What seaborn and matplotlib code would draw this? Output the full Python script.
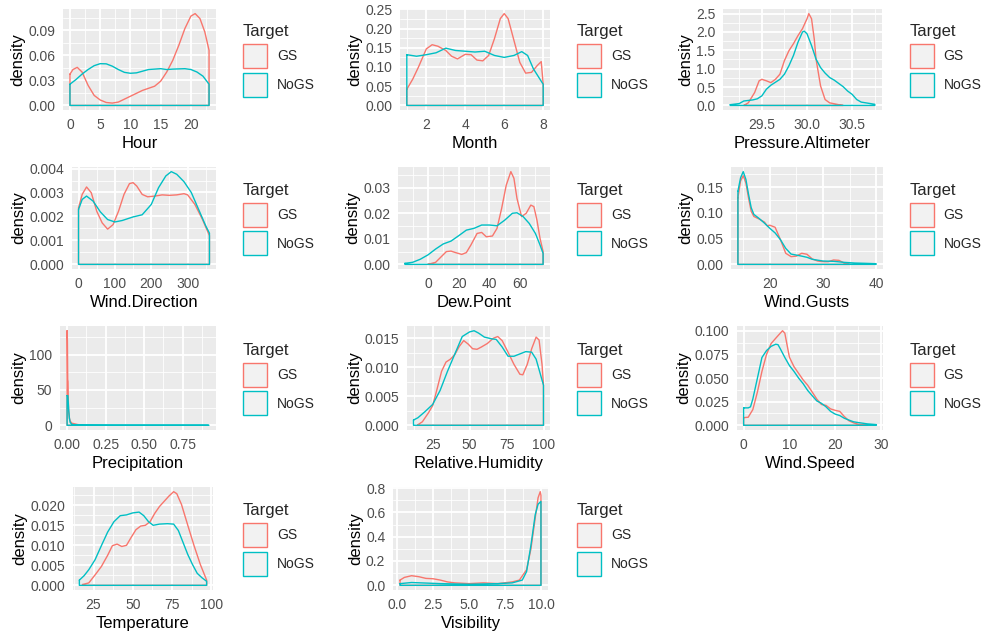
import matplotlib
matplotlib.use("Agg")
import pandas as pd
import matplotlib.pyplot as plt
from matplotlib.patches import Patch
from matplotlib.ticker import AutoMinorLocator
import seaborn as sns

# ---- density curves (x grid, density) ----
HOUR_GS_X = [0, 0.5, 1.2, 2, 3, 4, 5, 6, 7, 8, 10, 12, 14, 15, 16, 17, 18, 19, 20, 20.7, 21.5, 22.3, 23]
HOUR_GS_Y = [0.0375, 0.043, 0.0456, 0.040, 0.024, 0.012, 0.0065, 0.0035, 0.0028, 0.004, 0.011, 0.018,
             0.023, 0.029, 0.040, 0.054, 0.072, 0.092, 0.107, 0.110, 0.104, 0.088, 0.066]
HOUR_NOGS_X = [0, 1, 2, 3, 4, 5, 6, 7, 8, 9, 10, 11, 12, 13, 15, 16, 17, 19, 20, 21, 22, 23]
HOUR_NOGS_Y = [0.0254, 0.031, 0.0375, 0.043, 0.0476, 0.050, 0.0498, 0.047, 0.043, 0.0396, 0.0385, 0.039,
               0.041, 0.043, 0.044, 0.043, 0.0435, 0.044, 0.043, 0.040, 0.035, 0.0254]

MONTH_GS_X = [1, 1.3, 1.6, 2, 2.3, 2.6, 3, 3.3, 3.6, 4, 4.3, 4.6, 4.9, 5.2, 5.5, 5.8, 6, 6.2, 6.5, 6.8,
              7.1, 7.4, 7.7, 7.9, 8]
MONTH_GS_Y = [0.042, 0.068, 0.10, 0.147, 0.158, 0.154, 0.143, 0.128, 0.121, 0.133, 0.132, 0.118, 0.116,
              0.130, 0.174, 0.226, 0.239, 0.226, 0.169, 0.112, 0.084, 0.086, 0.104, 0.114, 0.055]
MONTH_NOGS_X = [1, 1.5, 2, 2.5, 3, 3.5, 4, 4.5, 5, 5.5, 6, 6.5, 6.9, 7.2, 7.5, 8]
MONTH_NOGS_Y = [0.132, 0.128, 0.132, 0.137, 0.149, 0.143, 0.141, 0.139, 0.141, 0.130, 0.125, 0.130,
                0.140, 0.130, 0.095, 0.055]

PRESS_GS_X = [29.3, 29.35, 29.42, 29.47, 29.5, 29.55, 29.6, 29.65, 29.7, 29.75, 29.8, 29.85, 29.9,
              29.95, 30.0, 30.02, 30.05, 30.08, 30.1, 30.15, 30.2, 30.25, 30.35, 30.4]
PRESS_GS_Y = [0.0, 0.07, 0.35, 0.67, 0.71, 0.67, 0.62, 0.71, 0.85, 1.22, 1.49, 1.68, 1.90, 2.09, 2.36,
              2.5, 2.36, 1.81, 1.26, 0.53, 0.16, 0.07, 0.02, 0.0]
PRESS_NOGS_X = [29.15, 29.25, 29.3, 29.4, 29.45, 29.5, 29.55, 29.6, 29.7, 29.75, 29.8, 29.85, 29.9,
                29.95, 29.97, 30.0, 30.05, 30.1, 30.15, 30.2, 30.25, 30.3, 30.35, 30.4, 30.45, 30.5,
                30.55, 30.6, 30.65, 30.7, 30.75]
PRESS_NOGS_Y = [0.02, 0.05, 0.12, 0.15, 0.18, 0.26, 0.44, 0.55, 0.71, 0.85, 1.08, 1.36, 1.72, 2.0, 2.02,
                1.95, 1.63, 1.26, 1.03, 0.88, 0.76, 0.69, 0.60, 0.51, 0.39, 0.30, 0.16, 0.09, 0.07,
                0.05, 0.03]

WDIR_GS_X = [0, 10, 22, 35, 50, 65, 80, 95, 110, 125, 140, 150, 160, 175, 190, 210, 230, 250, 270,
             290, 300, 320, 340, 360]
WDIR_GS_Y = [0.00236, 0.00292, 0.00323, 0.00299, 0.00222, 0.00173, 0.00147, 0.00166, 0.00222,
             0.00292, 0.00337, 0.00341, 0.00327, 0.00292, 0.00282, 0.00285, 0.00290, 0.00288,
             0.00290, 0.00295, 0.00290, 0.0025, 0.0019, 0.0012]
WDIR_NOGS_X = [0, 10, 22, 40, 60, 80, 100, 120, 150, 175, 200, 220, 240, 255, 270, 290, 310, 330,
               350, 360]
WDIR_NOGS_Y = [0.00229, 0.00271, 0.00285, 0.00264, 0.00219, 0.00187, 0.00177, 0.00183, 0.00198,
               0.00207, 0.0025, 0.0032, 0.00369, 0.00387, 0.00376, 0.00345, 0.00300, 0.00230,
               0.00160, 0.0013]

DEW_GS_X = [0, 5, 8, 12, 15, 18, 22, 25, 28, 32, 35, 38, 42, 45, 48, 51, 54, 56, 58, 61, 64, 67, 69,
            71, 73, 75]
DEW_GS_Y = [0.0, 0.0008, 0.0026, 0.005, 0.0052, 0.0046, 0.0039, 0.0046, 0.0076, 0.0121, 0.0125,
            0.0108, 0.0111, 0.0141, 0.0219, 0.031, 0.0363, 0.0337, 0.0258, 0.0187, 0.020, 0.0232,
            0.0226, 0.0173, 0.0102, 0.005]
DEW_NOGS_X = [-15, -10, -5, 0, 5, 10, 15, 20, 25, 30, 35, 40, 45, 50, 55, 58, 62, 66, 70, 73, 75]
DEW_NOGS_Y = [0.0004, 0.0008, 0.002, 0.0037, 0.006, 0.008, 0.0091, 0.0112, 0.0134, 0.0141, 0.0154,
              0.0154, 0.0151, 0.0173, 0.020, 0.0202, 0.0187, 0.016, 0.0121, 0.0076, 0.0043]

GUST_GS_X = [14, 14.5, 15, 15.5, 16, 16.5, 17, 18, 19, 19.5, 20, 21, 22, 23, 24, 25, 26, 27, 28, 29,
             30, 31, 32, 33, 34, 35]
GUST_GS_Y = [0.129, 0.162, 0.172, 0.158, 0.129, 0.103, 0.093, 0.088, 0.082, 0.075, 0.076, 0.072,
             0.048, 0.0215, 0.015, 0.016, 0.0215, 0.0196, 0.0104, 0.0065, 0.0052, 0.0052, 0.0085,
             0.0078, 0.0026, 0.0]
GUST_NOGS_X = [14, 14.5, 15, 15.5, 16, 16.5, 17, 18, 19, 20, 21, 22, 23, 24, 25, 26, 27, 28, 30, 32,
               34, 36, 38, 40]
GUST_NOGS_Y = [0.142, 0.168, 0.18, 0.165, 0.136, 0.11, 0.097, 0.089, 0.080, 0.070, 0.061, 0.048,
               0.031, 0.020, 0.018, 0.016, 0.0137, 0.0098, 0.0065, 0.0059, 0.0039, 0.0026, 0.002,
               0.0013]

PRECIP_GS_X = [0, 0.002, 0.004, 0.006, 0.008, 0.01, 0.015, 0.02, 0.03, 0.05, 0.07, 0.1]
PRECIP_GS_Y = [134, 120, 65, 62, 35, 20, 10, 6, 3, 2, 1, 0.3]
PRECIP_NOGS_X = [0, 0.005, 0.01, 0.015, 0.02, 0.03, 0.05, 0.1, 0.3, 0.6, 0.92]
PRECIP_NOGS_Y = [42, 42, 23, 10, 4, 1.5, 0.5, 0.2, 0.05, 0.02, 0.01]

RH_GS_X = [15, 18, 22, 25, 28, 31, 34, 37, 40, 43, 46, 49, 52, 55, 58, 62, 66, 69, 72, 76, 80, 84,
           86, 89, 92, 95, 97, 99, 100]
RH_GS_Y = [0.0001, 0.0006, 0.0021, 0.0034, 0.0063, 0.0093, 0.0109, 0.0114, 0.0122, 0.0136, 0.0146,
           0.014, 0.0132, 0.0131, 0.0135, 0.0141, 0.015, 0.0153, 0.0146, 0.0126, 0.0105, 0.0088,
           0.0087, 0.0105, 0.0132, 0.0152, 0.0147, 0.0105, 0.0069]
RH_NOGS_X = [12, 15, 20, 25, 30, 35, 40, 45, 50, 53, 56, 60, 65, 68, 72, 76, 80, 84, 88, 92, 95, 98,
             100]
RH_NOGS_Y = [0.0009, 0.0013, 0.0024, 0.0036, 0.006, 0.0093, 0.0123, 0.0153, 0.0161, 0.0163, 0.0159,
             0.0152, 0.0149, 0.0148, 0.0135, 0.0119, 0.0119, 0.0123, 0.0127, 0.0126, 0.0114, 0.0087,
             0.0069]

WSPD_GS_X = [0, 1, 2, 3, 4, 5, 6, 7, 8, 8.5, 9, 10, 11, 12, 13, 14, 15, 16, 17, 18, 19, 20, 21, 22,
             23, 24, 25, 27]
WSPD_GS_Y = [0.0081, 0.0085, 0.0165, 0.035, 0.057, 0.075, 0.0864, 0.092, 0.0974, 0.1, 0.0974, 0.072,
             0.062, 0.055, 0.048, 0.0423, 0.035, 0.0276, 0.022, 0.021, 0.0173, 0.0158, 0.0147,
             0.0092, 0.0048, 0.0026, 0.0011, 0.0004]
WSPD_NOGS_X = [0, 1, 1.5, 2, 3, 4, 5, 6, 7, 7.5, 8, 9, 10, 11, 12, 13, 14, 15, 16, 17, 18, 19, 20,
               21, 22, 23, 24, 25, 27, 29]
WSPD_NOGS_Y = [0.0184, 0.0184, 0.0195, 0.0276, 0.0496, 0.0717, 0.079, 0.0835, 0.0857, 0.0853, 0.081,
               0.0717, 0.0632, 0.057, 0.050, 0.044, 0.0368, 0.0312, 0.0257, 0.0232, 0.0195, 0.0147,
               0.0118, 0.0103, 0.0074, 0.0055, 0.0037, 0.0029, 0.0015, 0.0007]

TEMP_GS_X = [18, 22, 26, 30, 34, 37, 40, 43, 46, 49, 52, 55, 58, 61, 64, 67, 70, 73, 76, 78, 81, 85,
             89, 93, 97]
TEMP_GS_Y = [0.0002, 0.0006, 0.0026, 0.0047, 0.0075, 0.0099, 0.0103, 0.0097, 0.010, 0.012, 0.0139,
             0.0148, 0.015, 0.0159, 0.018, 0.0197, 0.021, 0.0223, 0.0234, 0.0229, 0.0202, 0.015,
             0.0099, 0.0052, 0.0013]
TEMP_NOGS_X = [16, 19, 22, 26, 30, 34, 38, 42, 46, 50, 54, 57, 60, 63, 67, 72, 76, 79, 82, 85, 88,
               91, 94, 97]
TEMP_NOGS_Y = [0.0013, 0.0024, 0.0039, 0.0064, 0.0099, 0.0133, 0.0159, 0.0174, 0.0176, 0.0181,
               0.0183, 0.0174, 0.0159, 0.015, 0.0153, 0.0154, 0.0153, 0.0137, 0.0107, 0.0077,
               0.0052, 0.003, 0.0019, 0.001]

VIS_GS_X = [0.2, 0.5, 1, 1.5, 2, 2.5, 3, 3.5, 4, 5, 6, 7, 8, 8.5, 9, 9.3, 9.6, 9.8, 9.95, 10]
VIS_GS_Y = [0.043, 0.065, 0.079, 0.071, 0.057, 0.054, 0.043, 0.028, 0.02, 0.014, 0.02, 0.014, 0.028,
            0.043, 0.128, 0.298, 0.553, 0.72, 0.77, 0.74]
VIS_NOGS_X = [0.2, 1, 3, 5, 7, 8, 8.7, 9, 9.3, 9.6, 9.8, 10]
VIS_NOGS_Y = [0.014, 0.023, 0.014, 0.0085, 0.014, 0.02, 0.043, 0.113, 0.326, 0.58, 0.667, 0.69]

# ---- axis ticks (values, labels) ----
HOUR_XT, HOUR_XL = [0, 5, 10, 15, 20], ["0", "5", "10", "15", "20"]
HOUR_YT, HOUR_YL = [0, 0.03, 0.06, 0.09], ["0.00", "0.03", "0.06", "0.09"]
MONTH_XT, MONTH_XL = [2, 4, 6, 8], ["2", "4", "6", "8"]
MONTH_YT = [0, 0.05, 0.10, 0.15, 0.20, 0.25]
MONTH_YL = ["0.00", "0.05", "0.10", "0.15", "0.20", "0.25"]
PRESS_XT, PRESS_XL = [29.5, 30.0, 30.5], ["29.5", "30.0", "30.5"]
PRESS_YT, PRESS_YL = [0, 0.5, 1.0, 1.5, 2.0, 2.5], ["0.0", "0.5", "1.0", "1.5", "2.0", "2.5"]
WDIR_XT, WDIR_XL = [0, 100, 200, 300], ["0", "100", "200", "300"]
WDIR_YT = [0, 0.001, 0.002, 0.003, 0.004]
WDIR_YL = ["0.000", "0.001", "0.002", "0.003", "0.004"]
DEW_XT, DEW_XL = [0, 20, 40, 60], ["0", "20", "40", "60"]
DEW_YT, DEW_YL = [0, 0.01, 0.02, 0.03], ["0.00", "0.01", "0.02", "0.03"]
GUST_XT, GUST_XL = [20, 30, 40], ["20", "30", "40"]
GUST_YT, GUST_YL = [0, 0.05, 0.10, 0.15], ["0.00", "0.05", "0.10", "0.15"]
PRECIP_XT, PRECIP_XL = [0, 0.25, 0.5, 0.75], ["0.00", "0.25", "0.50", "0.75"]
PRECIP_YT, PRECIP_YL = [0, 50, 100], ["0", "50", "100"]
RH_XT, RH_XL = [25, 50, 75, 100], ["25", "50", "75", "100"]
RH_YT, RH_YL = [0, 0.005, 0.010, 0.015], ["0.000", "0.005", "0.010", "0.015"]
WSPD_XT, WSPD_XL = [0, 10, 20, 30], ["0", "10", "20", "30"]
WSPD_YT = [0, 0.025, 0.05, 0.075, 0.1]
WSPD_YL = ["0.000", "0.025", "0.050", "0.075", "0.100"]
TEMP_XT, TEMP_XL = [25, 50, 75, 100], ["25", "50", "75", "100"]
TEMP_YT = [0, 0.005, 0.010, 0.015, 0.020]
TEMP_YL = ["0.000", "0.005", "0.010", "0.015", "0.020"]
VIS_XT, VIS_XL = [0, 2.5, 5, 7.5, 10], ["0.0", "2.5", "5.0", "7.5", "10.0"]
VIS_YT, VIS_YL = [0, 0.2, 0.4, 0.6, 0.8], ["0.0", "0.2", "0.4", "0.6", "0.8"]

TARGETS = ["GS", "NoGS"]
PALETTE = {"GS": "#F8766D", "NoGS": "#00BFC4"}

PANELS = [
    ("Hour", HOUR_GS_X, HOUR_GS_Y, HOUR_NOGS_X, HOUR_NOGS_Y, HOUR_XT, HOUR_XL, HOUR_YT, HOUR_YL),
    ("Month", MONTH_GS_X, MONTH_GS_Y, MONTH_NOGS_X, MONTH_NOGS_Y, MONTH_XT, MONTH_XL, MONTH_YT, MONTH_YL),
    ("Pressure.Altimeter", PRESS_GS_X, PRESS_GS_Y, PRESS_NOGS_X, PRESS_NOGS_Y, PRESS_XT, PRESS_XL,
     PRESS_YT, PRESS_YL),
    ("Wind.Direction", WDIR_GS_X, WDIR_GS_Y, WDIR_NOGS_X, WDIR_NOGS_Y, WDIR_XT, WDIR_XL, WDIR_YT, WDIR_YL),
    ("Dew.Point", DEW_GS_X, DEW_GS_Y, DEW_NOGS_X, DEW_NOGS_Y, DEW_XT, DEW_XL, DEW_YT, DEW_YL),
    ("Wind.Gusts", GUST_GS_X, GUST_GS_Y, GUST_NOGS_X, GUST_NOGS_Y, GUST_XT, GUST_XL, GUST_YT, GUST_YL),
    ("Precipitation", PRECIP_GS_X, PRECIP_GS_Y, PRECIP_NOGS_X, PRECIP_NOGS_Y, PRECIP_XT, PRECIP_XL,
     PRECIP_YT, PRECIP_YL),
    ("Relative.Humidity", RH_GS_X, RH_GS_Y, RH_NOGS_X, RH_NOGS_Y, RH_XT, RH_XL, RH_YT, RH_YL),
    ("Wind.Speed", WSPD_GS_X, WSPD_GS_Y, WSPD_NOGS_X, WSPD_NOGS_Y, WSPD_XT, WSPD_XL, WSPD_YT, WSPD_YL),
    ("Temperature", TEMP_GS_X, TEMP_GS_Y, TEMP_NOGS_X, TEMP_NOGS_Y, TEMP_XT, TEMP_XL, TEMP_YT, TEMP_YL),
    ("Visibility", VIS_GS_X, VIS_GS_Y, VIS_NOGS_X, VIS_NOGS_Y, VIS_XT, VIS_XL, VIS_YT, VIS_YL),
]

# panel placement in pixels (gray area), ggplot grid.arrange style
W, H = 984, 635
ROW_TOP = [9, 167, 326, 487]
ROW_BOTTOM = [110, 269, 430, 590]
AX_X = [(63, 216), (400, 550), (723, 882), (72, 216), (398, 550), (731, 883),
        (60, 216), (407, 550), (737, 883), (73, 213), (393, 548)]
LEGEND_X = [243, 577, 910]


def density_frame(gx, gy, nx, ny):
    # geom_density outlines are closed polygons down to the baseline
    rows = []
    for target, xs, ys in (("GS", gx, gy), ("NoGS", nx, ny)):
        px = list(xs) + [xs[-1], xs[0], xs[0]]
        py = list(ys) + [0, 0, ys[0]]
        for a, b in zip(px, py):
            rows.append({"Target": target, "value": a, "density": b})
    return pd.DataFrame(rows)


sns.set_style("darkgrid", {"axes.facecolor": "#EBEBEB", "grid.color": "white"})
plt.rcParams["font.family"] = ["Liberation Sans", "DejaVu Sans"]

fig = plt.figure(figsize=(W / 100, H / 100), dpi=100)

for i, (name, gx, gy, nx, ny, xt, xl, yt, yl) in enumerate(PANELS):
    r, c = divmod(i, 3)
    left, right = AX_X[i]
    ax = fig.add_axes([left / W, 1 - ROW_BOTTOM[r] / H, (right - left) / W,
                       (ROW_BOTTOM[r] - ROW_TOP[r]) / H])
    df = density_frame(gx, gy, nx, ny)
    sns.lineplot(data=df, x="value", y="density", hue="Target", hue_order=TARGETS,
                 palette=PALETTE, sort=False, estimator=None, legend=False, ax=ax,
                 linewidth=1.0)

    ax.set_xticks(xt, xl)
    ax.set_yticks(yt, yl)
    ax.xaxis.set_minor_locator(AutoMinorLocator(2))
    ax.yaxis.set_minor_locator(AutoMinorLocator(2))
    ax.grid(which="major", color="white", linewidth=1.3)
    ax.grid(which="minor", color="white", linewidth=0.6)
    ax.tick_params(which="major", length=3.5, width=0.8, color="#333333",
                   labelcolor="#4D4D4D", labelsize=10, pad=2)
    ax.tick_params(which="minor", length=0)
    for s in ax.spines.values():
        s.set_visible(False)
    ax.set_xlabel(name, fontsize=12, color="black", labelpad=3)
    ax.set_ylabel("density", fontsize=12, color="black", labelpad=2)

    handles = [Patch(facecolor="#F2F2F2", edgecolor=PALETTE[t], linewidth=1.0, label=t)
               for t in TARGETS]
    yc = 1 - ((ROW_TOP[r] + ROW_BOTTOM[r]) / 2 + 1) / H
    ax.legend(handles=handles, title="Target", loc="center left",
              bbox_to_anchor=(LEGEND_X[c] / W, yc), bbox_transform=fig.transFigure,
              frameon=False, alignment="left", borderaxespad=0, borderpad=0,
              handlelength=1.73, handleheight=2.28, handletextpad=0.7,
              labelspacing=0.35, fontsize=10, title_fontsize=12)

fig.savefig("out.png", dpi=100)
